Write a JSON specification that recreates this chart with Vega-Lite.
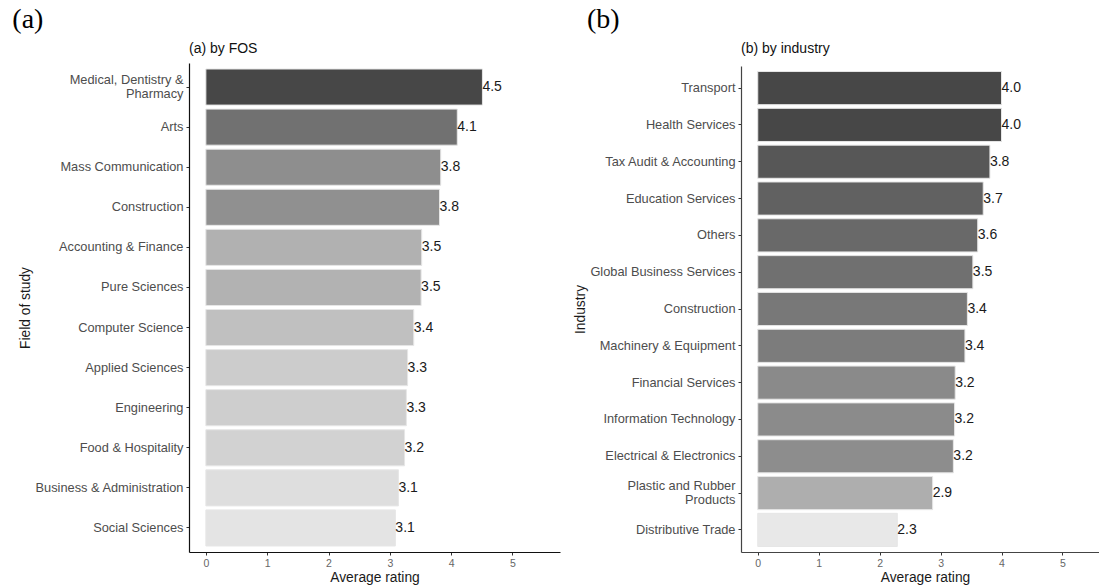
{
  "$schema": "https://vega.github.io/schema/vega-lite/v6.json",
  "background": "white",
  "padding": {"left": 12, "top": 6, "right": 0, "bottom": 4},
  "spacing": 13,
  "resolve": {"scale": {"fill": "independent"}},
  "config": {
    "font": "Liberation Sans",
    "view": {"stroke": null},
    "axis": {
      "grid": false,
      "domainColor": "#111111",
      "domainWidth": 1.2,
      "tickColor": "#333333",
      "tickSize": 3,
      "labelFont": "Liberation Sans",
      "titleFont": "Liberation Sans",
      "labelColor": "#4d4d4d",
      "titleColor": "#1a1a1a",
      "titleFontWeight": "normal",
      "titleFontSize": 13.8
    },
    "axisX": {"labelFontSize": 10.5, "labelPadding": 3, "titlePadding": 2, "labelColor": "#666666", "labelFlush": false},
    "axisY": {
      "labelFontSize": 12.8,
      "labelPadding": 3,
      "titlePadding": 2,
      "labelLimit": 0,
      "labelLineHeight": 14,
      "labelOffset": {"condition": {"test": "indexof(datum.value, '\\n') >= 0", "value": -7}, "value": 0}
    },
    "title": {"font": "Liberation Sans", "fontWeight": "normal", "color": "#111111"}
  },
  "hconcat": [
    {
      "title": {"text": "(a)", "anchor": "start", "font": "Liberation Serif", "fontSize": 28, "fontWeight": "normal", "color": "#000000", "dx": -6, "offset": 8},
      "vconcat": [
        {
          "width": 371,
          "height": 489,
          "title": {"text": "(a) by FOS", "anchor": "start", "frame": "group", "fontSize": 14, "offset": 7},
          "data": {
            "values": [
              {"fos": "Medical, Dentistry &\nPharmacy", "rating": 4.51},
              {"fos": "Arts", "rating": 4.10},
              {"fos": "Mass Communication", "rating": 3.83},
              {"fos": "Construction", "rating": 3.81},
              {"fos": "Accounting & Finance", "rating": 3.52},
              {"fos": "Pure Sciences", "rating": 3.51},
              {"fos": "Computer Science", "rating": 3.39},
              {"fos": "Applied Sciences", "rating": 3.29},
              {"fos": "Engineering", "rating": 3.27},
              {"fos": "Food & Hospitality", "rating": 3.24},
              {"fos": "Business & Administration", "rating": 3.14},
              {"fos": "Social Sciences", "rating": 3.09}
            ]
          },
          "encoding": {
            "y": {
              "field": "fos",
              "type": "nominal",
              "sort": null,
              "scale": {"paddingInner": 0.1, "paddingOuter": 0.15},
              "axis": {"title": "Field of study", "labelExpr": "split(datum.label, '\\n')"}
            },
            "x": {
              "field": "rating",
              "type": "quantitative",
              "scale": {"domain": [-0.275, 5.775], "nice": false, "zero": false},
              "axis": {"title": "Average rating", "values": [0, 1, 2, 3, 4, 5]}
            }
          },
          "layer": [
            {
              "mark": {"type": "bar", "stroke": "#e6e6e6", "strokeWidth": 1},
              "encoding": {
                "x2": {"datum": 0},
                "fill": {
                  "field": "rating",
                  "type": "quantitative",
                  "scale": {"domain": [3.09, 4.51], "range": ["#e4e4e4", "#474747"], "interpolate": "lab"},
                  "legend": null
                }
              }
            },
            {
              "mark": {"type": "text", "align": "left", "baseline": "middle", "fontSize": 14, "color": "#1a1a1a"},
              "encoding": {"text": {"field": "rating", "type": "quantitative", "format": ".1f"}}
            }
          ]
        }
      ]
    },
    {
      "title": {"text": "(b)", "anchor": "start", "font": "Liberation Serif", "fontSize": 28, "fontWeight": "normal", "color": "#000000", "dx": 13, "offset": 8},
      "vconcat": [
        {
          "width": 358,
          "height": 489,
          "title": {"text": "(b) by industry", "anchor": "start", "frame": "group", "fontSize": 14, "offset": 7},
          "data": {
            "values": [
              {"industry": "Transport", "rating": 4.00},
              {"industry": "Health Services", "rating": 4.00},
              {"industry": "Tax Audit & Accounting", "rating": 3.81},
              {"industry": "Education Services", "rating": 3.70},
              {"industry": "Others", "rating": 3.61},
              {"industry": "Global Business Services", "rating": 3.53},
              {"industry": "Construction", "rating": 3.44},
              {"industry": "Machinery & Equipment", "rating": 3.40},
              {"industry": "Financial Services", "rating": 3.24},
              {"industry": "Information Technology", "rating": 3.23},
              {"industry": "Electrical & Electronics", "rating": 3.21},
              {"industry": "Plastic and Rubber\nProducts", "rating": 2.87},
              {"industry": "Distributive Trade", "rating": 2.29}
            ]
          },
          "encoding": {
            "y": {
              "field": "industry",
              "type": "nominal",
              "sort": null,
              "scale": {"paddingInner": 0.1, "paddingOuter": 0.15, "range": [3, 489]},
              "axis": {"title": "Industry", "labelExpr": "split(datum.label, '\\n')", "domainColor": "#444444"}
            },
            "x": {
              "field": "rating",
              "type": "quantitative",
              "scale": {"domain": [-0.275, 5.6], "nice": false, "zero": false},
              "axis": {"title": "Average rating", "values": [0, 1, 2, 3, 4, 5], "titleX": 184, "domainColor": "#444444"}
            }
          },
          "layer": [
            {
              "mark": {"type": "bar", "stroke": "#e6e6e6", "strokeWidth": 1},
              "encoding": {
                "x2": {"datum": 0},
                "fill": {
                  "field": "rating",
                  "type": "quantitative",
                  "scale": {"domain": [2.29, 4.0], "range": ["#e8e8e8", "#474747"], "interpolate": "lab"},
                  "legend": null
                }
              }
            },
            {
              "mark": {"type": "text", "align": "left", "baseline": "middle", "fontSize": 14, "color": "#1a1a1a"},
              "encoding": {"text": {"field": "rating", "type": "quantitative", "format": ".1f"}}
            }
          ]
        }
      ]
    }
  ]
}
